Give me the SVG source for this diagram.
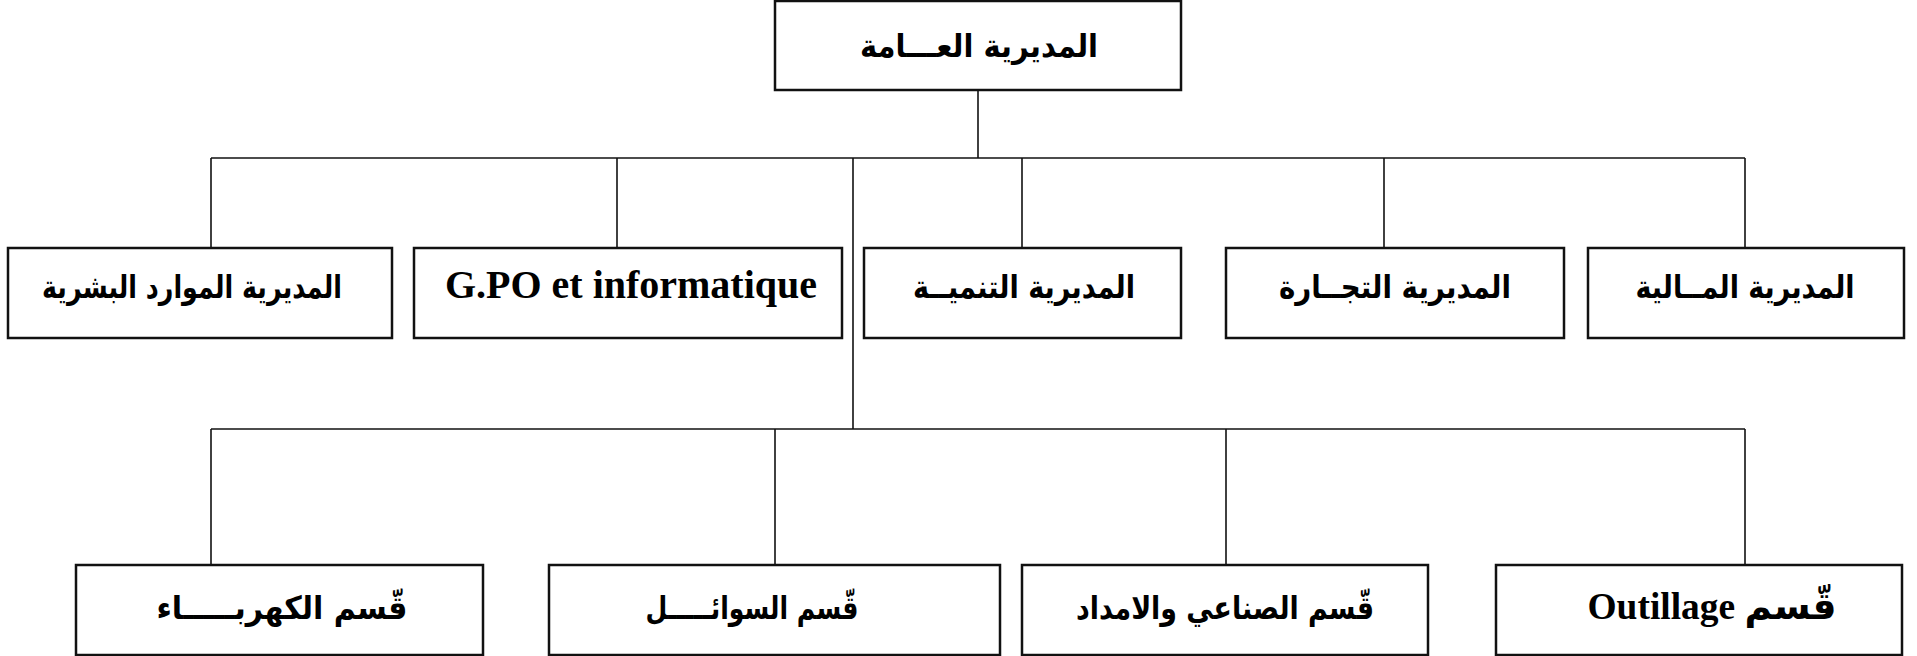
<svg xmlns="http://www.w3.org/2000/svg" width="1917" height="656" viewBox="0 0 1917 656">
<style>
.box{fill:#fff;stroke:#111;stroke-width:2.5}
.lbl{font-family:"Liberation Serif","DejaVu Sans",serif;font-weight:bold;font-size:40px;fill:#000;text-anchor:middle}
.ar{font-family:"DejaVu Sans","Liberation Sans",sans-serif;font-weight:bold;font-size:32px;fill:#000;text-anchor:middle;direction:rtl}
.mix{font-family:"Liberation Serif","DejaVu Sans",serif;font-weight:bold;font-size:37px;fill:#000;text-anchor:middle;direction:rtl}
.con line{stroke:#111;stroke-width:1.6}
</style>
<rect width="1917" height="656" fill="#fff"/>
<g class="con" id="connectors">
<line x1="978" y1="90" x2="978" y2="158"/>
<line x1="211" y1="158" x2="1745" y2="158"/>
<line x1="211" y1="158" x2="211" y2="248"/>
<line x1="617" y1="158" x2="617" y2="248"/>
<line x1="1022" y1="158" x2="1022" y2="248"/>
<line x1="1384" y1="158" x2="1384" y2="248"/>
<line x1="1745" y1="158" x2="1745" y2="248"/>
<line x1="853" y1="158" x2="853" y2="429"/>
<line x1="211" y1="429" x2="1745" y2="429"/>
<line x1="211" y1="429" x2="211" y2="565"/>
<line x1="775" y1="429" x2="775" y2="565"/>
<line x1="1226" y1="429" x2="1226" y2="565"/>
<line x1="1745" y1="429" x2="1745" y2="565"/>
</g>
<g id="n-general"><rect class="box" x="775" y="1" width="406" height="89"/><text class="ar" x="979" y="57" textLength="238" lengthAdjust="spacingAndGlyphs">المديرية العـــامة</text></g>
<g id="n-hr"><rect class="box" x="8" y="248" width="384" height="90"/><text class="ar" x="192" y="298" textLength="300" lengthAdjust="spacingAndGlyphs">المديرية الموارد البشرية</text></g>
<g id="n-gpo"><rect class="box" x="414" y="248" width="428" height="90"/><text class="lbl" x="631" y="298" textLength="372" lengthAdjust="spacingAndGlyphs">G.PO et informatique</text></g>
<g id="n-tanmia"><rect class="box" x="864" y="248" width="317" height="90"/><text class="ar" x="1024" y="298" textLength="222" lengthAdjust="spacingAndGlyphs">المديرية التنميــة</text></g>
<g id="n-tijara"><rect class="box" x="1226" y="248" width="338" height="90"/><text class="ar" x="1395" y="298" textLength="232" lengthAdjust="spacingAndGlyphs">المديرية التجــارة</text></g>
<g id="n-maliya"><rect class="box" x="1588" y="248" width="316" height="90"/><text class="ar" x="1745" y="298" textLength="219" lengthAdjust="spacingAndGlyphs">المديرية المــالية</text></g>
<g id="n-kahraba"><rect class="box" x="76" y="565" width="407" height="90"/><text class="ar" x="282" y="619" textLength="251" lengthAdjust="spacingAndGlyphs">قّسم الكهربـــــاء</text></g>
<g id="n-sawail"><rect class="box" x="549" y="565" width="451" height="90"/><text class="ar" x="752" y="619" textLength="213" lengthAdjust="spacingAndGlyphs">قّسم السوائـــــل</text></g>
<g id="n-sinai"><rect class="box" x="1022" y="565" width="406" height="90"/><text class="ar" x="1225" y="619" textLength="298" lengthAdjust="spacingAndGlyphs">قّسم الصناعي والامداد</text></g>
<g id="n-outillage"><rect class="box" x="1496" y="565" width="406" height="90"/><text class="mix" x="1712" y="619" textLength="249" lengthAdjust="spacingAndGlyphs">قّسم Outillage</text></g>
</svg>
